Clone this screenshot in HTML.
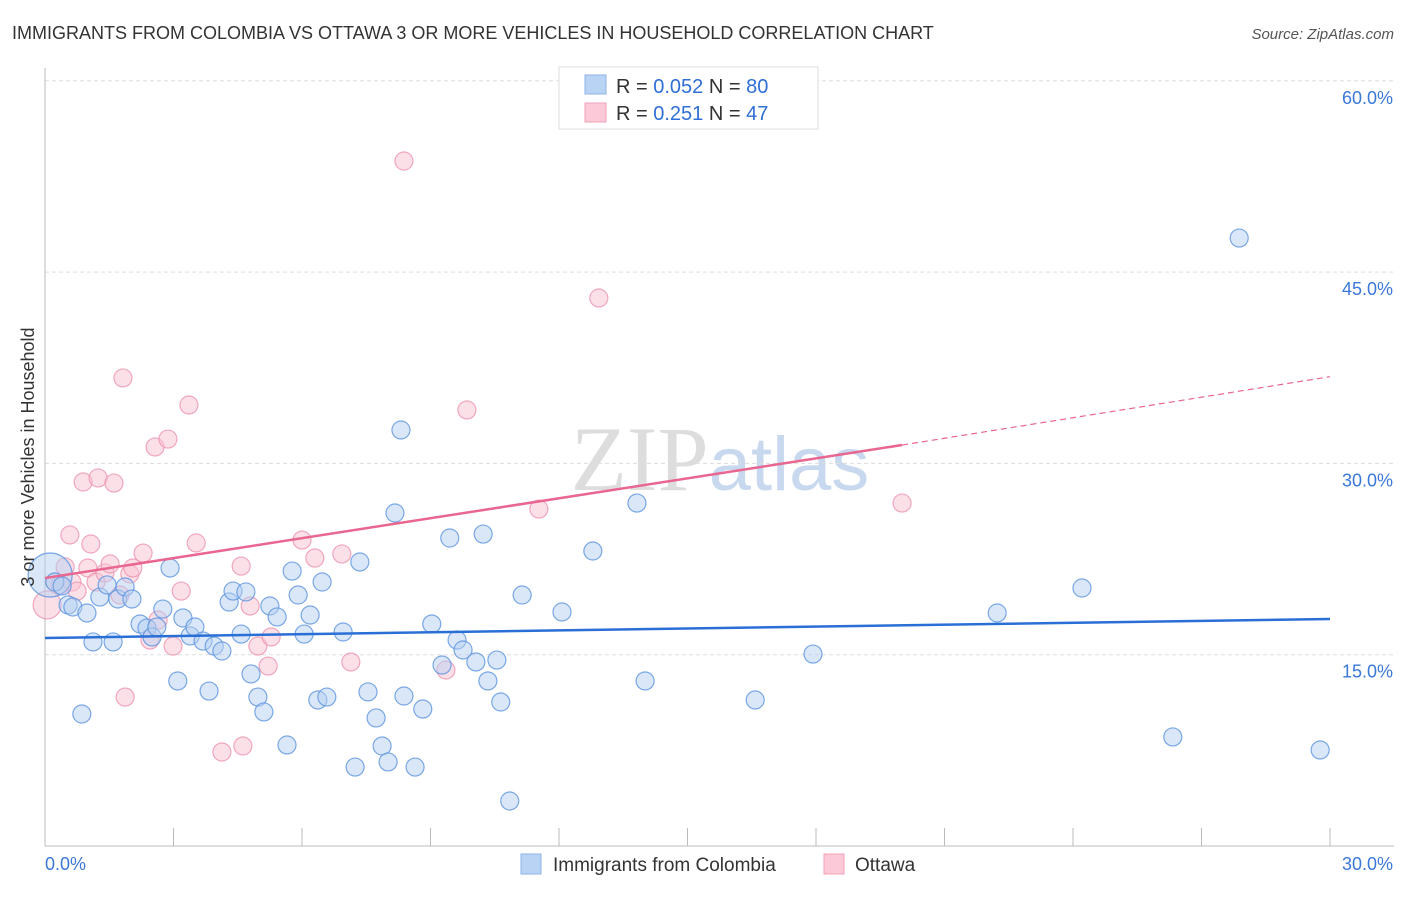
<!DOCTYPE html>
<html><head><meta charset="utf-8"><style>
body{margin:0;background:#fff;font-family:"Liberation Sans",sans-serif}
</style></head><body>
<svg width="1406" height="892" xmlns="http://www.w3.org/2000/svg" font-family="Liberation Sans, sans-serif">
<text x="12" y="39" font-size="18" fill="#333">IMMIGRANTS FROM COLOMBIA VS OTTAWA 3 OR MORE VEHICLES IN HOUSEHOLD CORRELATION CHART</text>
<text x="1394" y="39" font-size="15" fill="#555" font-style="italic" text-anchor="end">Source: ZipAtlas.com</text>
<text x="720" y="490" font-size="92" fill="#ddd" text-anchor="middle" font-family="Liberation Serif, serif">ZIP<tspan fill="#c8d8ee" font-family="Liberation Sans, sans-serif" font-size="76">atlas</tspan></text>
<g id="grid"></g>
<g id="axes"></g>
<g id="marks"></g>
<text transform="translate(34,457) rotate(-90)" font-size="18" fill="#333" text-anchor="middle">3 or more Vehicles in Household</text>
<g>
<rect x="559" y="67" width="259" height="62" fill="#fff" stroke="#ddd"/>
<rect x="585" y="75" width="21" height="19" fill="#b9d3f4" stroke="#8fb3e6"/>
<rect x="585" y="103" width="21" height="19" fill="#fbc9d7" stroke="#f0a2b8"/>
<text x="616" y="93" font-size="20" fill="#333">R = <tspan fill="#2f6fd6">0.052</tspan>   N = <tspan fill="#2f6fd6">80</tspan></text>
<text x="616" y="120" font-size="20" fill="#333">R =  <tspan fill="#2f6fd6">0.251</tspan>   N = <tspan fill="#2f6fd6">47</tspan></text>
</g>
<g>
<rect x="521" y="854" width="20" height="20" fill="#b9d3f4" stroke="#8fb3e6"/>
<text x="553" y="871" font-size="19" fill="#333">Immigrants from Colombia</text>
<rect x="824" y="854" width="20" height="20" fill="#fbc9d7" stroke="#f0a2b8"/>
<text x="855" y="871" font-size="19" fill="#333">Ottawa</text>
</g>
</svg>
<script>
const yTicks=[15,30,45,60];
const xTickLabels=["0.0%","30.0%"];
const blueX=[.12,.23,.40,.54,.65,.86,.98,1.12,1.28,1.45,1.59,1.70,1.87,2.03,2.22,2.38,2.50,2.61,2.75,2.92,3.10,3.22,3.39,3.50,3.69,3.83,3.95,4.13,4.30,4.39,4.58,4.69,4.81,4.97,5.11,5.25,5.42,5.65,5.77,5.91,6.05,6.19,6.37,6.47,6.58,6.96,7.24,7.35,7.54,7.73,7.87,8.01,8.17,8.31,8.38,8.64,8.82,9.03,9.27,9.45,9.62,9.76,10.06,10.23,10.34,10.55,10.64,10.85,11.14,12.07,12.79,13.82,14.01,16.58,17.93,22.23,24.21,26.33,27.88,29.77];
const blueY=[21.25,20.70,20.39,18.90,18.74,10.35,18.27,16.00,19.52,20.47,16.00,19.37,20.31,19.37,17.41,17.09,16.39,17.17,18.58,21.80,12.94,17.88,16.47,17.17,16.07,12.15,15.68,15.29,19.13,19.99,16.62,19.92,13.49,11.68,10.51,18.82,17.96,7.92,21.56,19.68,16.62,18.11,11.45,20.70,11.68,16.78,6.19,22.27,12.08,10.04,7.84,6.59,26.11,32.62,11.76,6.19,10.74,17.41,14.19,24.15,16.15,15.37,14.43,24.46,12.94,14.58,11.29,3.53,19.68,18.35,23.13,26.89,12.94,11.45,15.05,18.27,20.23,8.55,47.67,7.53];
const pinkX=[.05,.23,.35,.47,.63,.75,.89,1.00,1.07,1.19,1.24,1.40,1.52,1.61,1.75,1.82,1.87,1.98,2.05,2.29,2.45,2.57,2.64,2.87,2.99,3.18,3.36,3.53,4.13,4.58,4.62,4.79,4.97,5.21,5.28,6.00,6.30,6.93,7.14,8.38,9.36,9.85,11.53,12.93,20.01,.58];
const pinkY=[18.90,20.70,20.47,21.88,20.70,19.99,28.54,21.80,23.68,20.70,28.86,21.41,22.11,28.46,19.68,36.70,11.68,21.33,21.80,22.97,16.15,31.29,17.72,31.91,15.68,19.99,34.58,23.76,7.37,21.95,7.84,18.82,15.68,14.11,16.39,23.99,22.58,22.90,14.43,53.71,13.80,34.19,26.42,42.97,26.89,24.39];
const blueTrend=[16.31,17.80];
const pinkTrend=[21.01,31.44,36.80];
const pinkSolidEnd=20.01;
const NS="http://www.w3.org/2000/svg";
const X=v=>45+v*1285/30;
const Y=v=>846-v*191.3/15;
function mk(tag,attrs,parent){const e=document.createElementNS(NS,tag);for(const k in attrs)e.setAttribute(k,attrs[k]);document.getElementById(parent).appendChild(e);return e;}
yTicks.forEach(t=>{
 const l=mk('line',{x1:45,x2:1394,y1:Y(t),y2:Y(t),stroke:'#ddd','stroke-dasharray':'4,3'},'grid');
 
 
 const tx=mk('text',{x:1393,y:Y(t)+23,'font-size':18,fill:'#3b78d8','text-anchor':'end'},'grid');
 tx.textContent=t.toFixed(1)+'%';
 
 
});
let a=mk('line',{x1:45,x2:45,y1:68,y2:846,stroke:'#bbb'},'axes');


a=mk('line',{x1:45,x2:1394,y1:846,y2:846,stroke:'#bbb'},'axes');


for(let i=1;i<=10;i++){const t=mk('line',{x1:X(i*3),x2:X(i*3),y1:828,y2:846,stroke:'#bbb'},'axes');
 
 }
[[0,45,'start'],[30,1393,'end']].forEach((p,i)=>{const t=mk('text',{x:p[1],y:870,'font-size':18,fill:'#3b78d8','text-anchor':p[2]},'axes');t.textContent=xTickLabels[i];
 
 });
function dots(xs,ys,fill,stroke,name){xs.forEach((x,i)=>{const r=(i===0&&name==='colombia-point')?22:(i===0?14:9);
 const c=mk('circle',{cx:X(x),cy:Y(ys[i]),r:r,fill:fill,'fill-opacity':0.5,stroke:stroke,'stroke-width':1.2,'stroke-opacity':0.8},'marks');
 
 });}
dots(pinkX,pinkY,'#f9c2d2','#ec94ae','ottawa-point');
dots(blueX,blueY,'#b6d0f2','#5b93e0','colombia-point');
let l=mk('line',{x1:X(0),y1:Y(blueTrend[0]),x2:X(30),y2:Y(blueTrend[1]),stroke:'#2a6fd6','stroke-width':2.5},'marks');


l=mk('line',{x1:X(0),y1:Y(pinkTrend[0]),x2:X(pinkSolidEnd),y2:Y(pinkTrend[1]),stroke:'#e8668f','stroke-width':2.5},'marks');


l=mk('line',{x1:X(pinkSolidEnd),y1:Y(pinkTrend[1]),x2:X(30),y2:Y(pinkTrend[2]),stroke:'#e8668f','stroke-width':1.2,'stroke-dasharray':'6,4'},'marks');


</script>
</body></html>
